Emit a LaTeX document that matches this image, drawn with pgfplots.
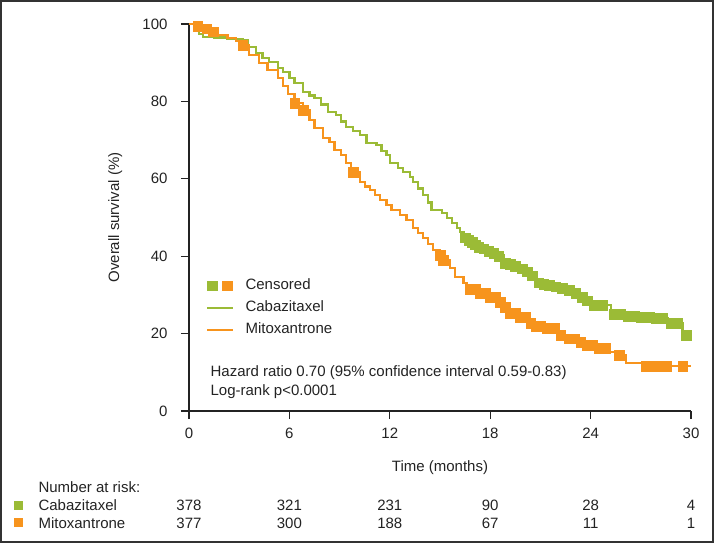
\documentclass[border=0pt]{standalone}
\usepackage{pgfplots}
\pgfplotsset{compat=1.18}
\usepackage{fontspec}
\setmainfont{Liberation Sans}
\definecolor{cab}{RGB}{155,187,54}
\definecolor{mit}{RGB}{247,148,29}
\definecolor{framec}{RGB}{51,51,51}
\definecolor{txt}{RGB}{35,35,35}

\pgfplotstableread{
x y
0 100
0.3 99
0.6 97.5
0.85 96.7
1.5 96.5
2.3 96.2
3.2 95.8
3.5 94.1
4.0 92.5
4.4 91.2
4.8 90.2
5.3 88.6
5.6 87.6
6.0 86.0
6.3 84.7
6.8 82.4
7.2 81.5
7.5 80.9
7.9 79.2
8.3 77.3
8.8 76.5
9.1 74.8
9.4 73.4
9.8 72.3
10.2 71.3
10.6 69.3
11.2 68.7
11.5 67.2
11.8 66.1
12.0 64.1
12.5 62.8
12.8 61.8
13.2 60.5
13.4 59.2
13.7 57.5
14.0 55.8
14.3 53.9
14.5 51.9
15.1 51.2
15.4 49.8
15.7 48.5
16.0 47.2
16.2 46.2
16.4 45.0
16.8 44.0
17.1 43.0
17.4 42.2
18.0 41.2
18.4 40.2
18.8 38.5
19.4 37.6
19.8 37.0
20.1 36.0
20.4 35.1
20.8 33.3
21.3 32.6
22.0 32.0
22.5 31.4
23.0 30.7
23.3 29.7
23.6 28.7
24.0 27.4
25.2 25.1
25.9 24.6
26.8 24.3
27.6 24.0
28.6 22.7
29.5 19.6
29.9 19.6
}\cabline

\pgfplotstableread{
x y
16.5 44.8
16.7 44.2
16.9 43.6
17.1 43.0
17.3 42.4
17.6 42.0
17.9 41.4
18.2 40.8
18.5 40.0
18.9 38.3
19.2 37.9
19.5 37.5
19.9 36.8
20.2 36.0
20.5 35.0
20.9 33.2
21.2 32.8
21.5 32.5
21.9 32.2
22.3 31.8
22.7 31.2
23.1 30.5
23.5 29.5
23.8 28.5
24.2 27.4
24.7 27.4
25.4 25.1
25.8 25.1
26.2 24.5
26.6 24.5
27.0 24.3
27.5 24.3
27.9 24.0
28.3 24.0
28.8 22.7
29.2 22.7
29.7 19.6
}\cabcens

\pgfplotstableread{
x y
0 100
0.3 99.5
0.8 98.8
1.2 98.0
1.7 97.2
2.3 96.4
2.8 95.6
3.2 94.6
3.6 92.0
4.2 89.9
4.7 88.1
5.3 86.0
5.6 84.0
5.9 82.0
6.3 79.6
6.8 77.8
7.2 75.2
7.5 73.1
8.0 70.5
8.4 69.5
8.7 67.4
9.1 66.1
9.4 64.1
9.7 61.8
10.2 59.2
10.5 58.0
10.8 57.1
11.1 55.8
11.4 54.5
11.8 53.2
12.1 51.9
12.6 50.6
13.0 49.4
13.4 47.3
13.7 46.0
14.0 44.7
14.3 43.2
14.6 41.6
15.0 40.3
15.1 39.0
15.6 37.0
15.9 34.6
16.4 33.1
16.6 31.5
17.2 30.5
17.7 29.5
18.4 28.2
18.7 26.9
19.0 25.3
19.6 24.3
20.2 22.7
20.6 22.0
21.2 21.4
22.0 19.6
22.6 18.7
23.2 17.8
23.8 17.0
24.4 16.3
25.0 15.2
25.5 14.5
26.1 12.4
27.1 11.6
30.0 11.6
}\mitline

\pgfplotstableread{
x y
0.5 99.5
1.05 98.8
1.45 98.0
3.2 94.6
6.3 79.6
6.8 77.8
9.8 61.8
15.0 40.3
15.2 39.0
16.8 31.5
17.1 31.5
17.4 30.5
17.7 30.5
18.0 29.5
18.3 29.5
18.6 28.2
18.9 26.9
19.2 25.3
19.5 25.3
19.8 24.3
20.1 24.3
20.4 22.7
20.7 22.0
21.0 22.0
21.4 21.4
21.8 21.4
22.2 19.6
22.7 18.7
23.0 18.7
23.4 17.8
23.8 17.0
24.1 17.0
24.5 16.3
24.9 16.3
25.7 14.5
27.3 11.6
27.6 11.6
27.9 11.6
28.2 11.6
28.5 11.6
29.5 11.6
}\mitcens

\begin{document}
\begin{tikzpicture}[font=\fontsize{15bp}{18bp}\selectfont, text=txt]
\useasboundingbox (0,0) rectangle (714bp,543bp);
\draw[framec, line width=1.8bp] (0.9bp,0.9bp) rectangle (713.1bp,542.1bp);
\begin{axis}[
  at={(189bp,132bp)}, anchor=south west,
  scale only axis, width=502bp, height=387bp,
  xmin=0, xmax=30, ymin=0, ymax=100,
  axis lines=left,
  axis line style={-, line width=1.1bp, txt},
  tick style={line width=1.1bp, txt},
  tick align=outside, major tick length=8bp,
  xtick={0,6,...,30}, ytick={0,20,...,100},
  /pgf/number format/assume math mode=true,
  ticklabel style={font=\fontsize{15bp}{18bp}\selectfont},
  xticklabel style={yshift=-6bp},
  yticklabel style={xshift=-10bp},
  clip=false,
  xlabel={Time (months)},
  xlabel style={at={(axis description cs:0.5,-0.147)}, anchor=center},
  ylabel={Overall survival (\%)},
  ylabel style={at={(axis description cs:-0.147,0.5)}, anchor=center},
  legend style={draw=none, fill=none, at={(axis description cs:0.034,0.342)}, anchor=north west,
     inner sep=0pt, column sep=11bp, row sep=8bp,
     nodes={inner sep=0pt, text height=11bp, text depth=3bp, font=\fontsize{15bp}{18bp}\selectfont}},
  legend cell align=left,
]
\addlegendimage{legend image code/.code={\fill[cab] (0bp,-4.8bp) rectangle (9.6bp,4.8bp); \fill[mit] (15bp,-4.8bp) rectangle (24.6bp,4.8bp);}}
\addlegendentry{Censored}
\addlegendimage{cab, line width=2.3bp, legend image code/.code={\draw (0bp,0bp) -- (26bp,0bp);}}
\addlegendentry{Cabazitaxel}
\addlegendimage{mit, line width=2.3bp, legend image code/.code={\draw (0bp,0bp) -- (26bp,0bp);}}
\addlegendentry{Mitoxantrone}

\addplot[cab, line width=2.3bp, const plot, forget plot] table {\cabline};
\addplot[cab, only marks, mark=square*, mark size=4.8bp, mark options={solid, fill=cab, draw=cab, line width=0.1bp}, forget plot] table {\cabcens};
\addplot[mit, line width=2.3bp, const plot, forget plot] table {\mitline};
\addplot[mit, only marks, mark=square*, mark size=4.8bp, mark options={solid, fill=mit, draw=mit, line width=0.1bp}, forget plot] table {\mitcens};

\node[anchor=west] at (axis description cs:0.036,0.098) {Hazard ratio 0.70 (95\% confidence interval 0.59-0.83)};
\node[anchor=west] at (axis description cs:0.036,0.049) {Log-rank p<0.0001};

\node[anchor=west] at (axis cs:-9.2,-19.6) {Number at risk:};
\node[anchor=west] at (axis cs:-9.2,-24.3) {Cabazitaxel};
\node[anchor=west] at (axis cs:-9.2,-28.9) {Mitoxantrone};
\node[fill=cab, minimum size=9bp, inner sep=0pt] at (axis cs:-10.2,-24.3) {};
\node[fill=mit, minimum size=9bp, inner sep=0pt] at (axis cs:-10.2,-28.9) {};
\node at (axis cs:0,-24.3) {378};
\node at (axis cs:6,-24.3) {321};
\node at (axis cs:12,-24.3) {231};
\node at (axis cs:18,-24.3) {90};
\node at (axis cs:24,-24.3) {28};
\node at (axis cs:30,-24.3) {4};
\node at (axis cs:0,-28.9) {377};
\node at (axis cs:6,-28.9) {300};
\node at (axis cs:12,-28.9) {188};
\node at (axis cs:18,-28.9) {67};
\node at (axis cs:24,-28.9) {11};
\node at (axis cs:30,-28.9) {1};
\end{axis}
\end{tikzpicture}
\end{document}
